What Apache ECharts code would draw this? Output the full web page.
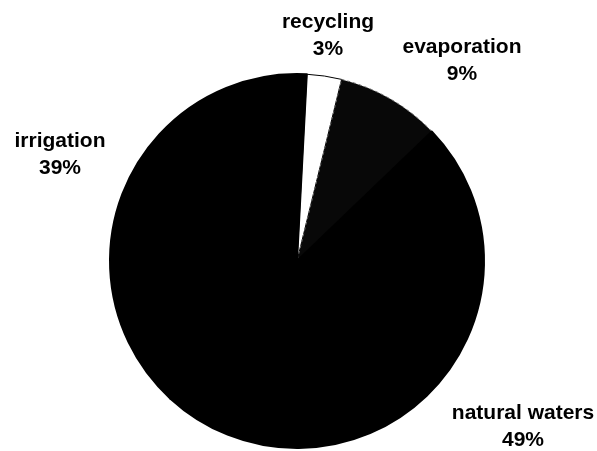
<!DOCTYPE html>
<html>
<head>
<meta charset="utf-8">
<script src="https://cdn.jsdelivr.net/npm/echarts@6/dist/echarts.min.js"></script>
<style>html,body{margin:0;padding:0;background:#fff}#c{width:597px;height:451px}</style>
</head>
<body>
<div id="c"></div>
<script>
const categories = ['recycling', 'evaporation', 'natural waters', 'irrigation'];
const values = [3, 9, 49, 39];
const sliceColors = ['#ffffff', '#080808', '#000000', '#000000'];
const labelPos = [[328, 36], [462, 61], [523, 427], [60, 155]];

const chart = echarts.init(document.getElementById('c'), null, {renderer: 'canvas'});
const data = categories.map((name, i) => ({
  name: name,
  value: values[i],
  itemStyle: i === 1
    ? {color: sliceColors[i], borderColor: '#6a6a6a', borderWidth: 1, borderType: [3, 3]}
    : i === 0
      ? {color: sliceColors[i], borderColor: '#000', borderWidth: 1}
      : {color: sliceColors[i], borderColor: '#000', borderWidth: 2}
}));
chart.setOption({
  animation: false,
  backgroundColor: '#fff',
  series: [{
    type: 'pie',
    center: [297, 261],
    radius: 187,
    startAngle: 87,
    clockwise: true,
    avoidLabelOverlap: false,
    data: data,
    label: {
      show: true,
      position: 'outside',
      formatter: p => p.name + '\n' + p.value + '%',
      fontFamily: 'Liberation Sans, Arial, sans-serif',
      fontWeight: 'bold',
      fontSize: 21,
      lineHeight: 27,
      color: '#000',
      align: 'center'
    },
    labelLine: {show: false},
    labelLayout: function (params) {
      const p = labelPos[params.dataIndex];
      return {x: p[0], y: p[1], align: 'center', verticalAlign: 'middle'};
    },
    emphasis: {disabled: true}
  }]
});
</script>
</body>
</html>
